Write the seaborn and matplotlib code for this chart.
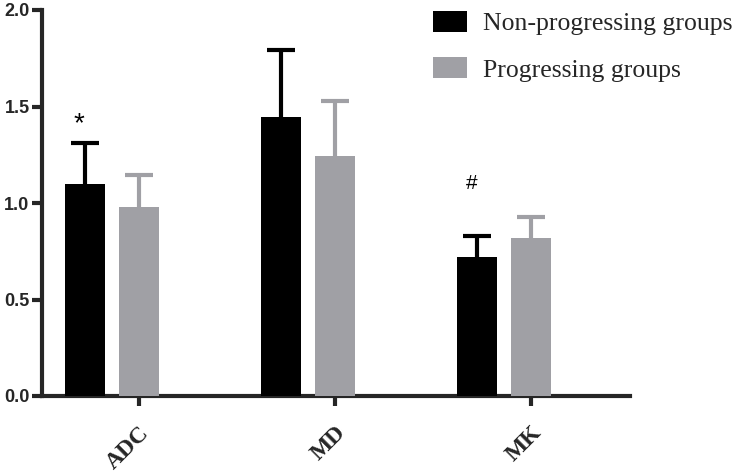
import matplotlib
matplotlib.use("Agg")
import matplotlib.pyplot as plt
import pandas as pd
import seaborn as sns

# --- data ---
CATEGORIES = ["ADC", "MD", "MK"]
GROUPS = ["Non-progressing groups", "Progressing groups"]
NON_PROG_MEAN = [1.096, 1.448, 0.718]
NON_PROG_SD = [0.216, 0.346, 0.113]
PROG_MEAN = [0.978, 1.245, 0.819]
PROG_SD = [0.166, 0.281, 0.107]
MARKS = ["*", "", "#"]          # significance marks over the non-progressing bars
MARK_Y = [1.41, None, 1.10]
MARK_SIZE = [20, 0, 15]

COLORS = ["#000000", "#A0A0A5"]

df = pd.DataFrame({
    "category": CATEGORIES * 2,
    "group": [GROUPS[0]] * 3 + [GROUPS[1]] * 3,
    "mean": NON_PROG_MEAN + PROG_MEAN,
    "sd": NON_PROG_SD + PROG_SD,
})

sns.set_style("ticks")
plt.rcParams["font.family"] = ["Liberation Sans", "DejaVu Sans"]

fig = plt.figure(figsize=(7.38, 4.74), dpi=100)
ax = fig.add_axes([42 / 738, 1 - 396 / 474, (630 - 42) / 738, (396 - 10) / 474])

sns.barplot(data=df, x="category", y="mean", hue="group", palette=COLORS,
            width=0.546, gap=0.25, errorbar=None, saturation=1, linewidth=0,
            ax=ax, zorder=3)

# upper-only error bars, placed on the bars seaborn drew
bars = [p for p in ax.patches if p.get_height() > 0][:6]
for bar, (_, row), col in zip(bars, df.iterrows(), [COLORS[0]] * 3 + [COLORS[1]] * 3):
    cx = bar.get_x() + bar.get_width() / 2
    _, caps, _ = ax.errorbar(cx, row["mean"], yerr=[[0], [row["sd"]]], fmt="none",
                             ecolor=col, elinewidth=3, capsize=10, capthick=3, zorder=2)
    caps[0].set_visible(False)  # no lower cap

for i, (mark, my) in enumerate(zip(MARKS, MARK_Y)):
    if mark:
        b = bars[i]
        ax.text(b.get_x() + b.get_width() / 2 - 6 / 196, my, mark, ha="center", va="center",
                fontsize=MARK_SIZE[i], color="black")

ax.set_ylim(0, 2.0)
ax.set_yticks([0.0, 0.5, 1.0, 1.5, 2.0])
ax.set_yticklabels(["0.0", "0.5", "1.0", "1.5", "2.0"], fontweight="bold", fontsize=13)
ax.set_xlim(-0.357, 2.643)

# ticks sit under the grey bars, as in the original
ax.set_xticks([b.get_x() + b.get_width() / 2 for b in bars[3:6]])
ax.set_xticklabels(CATEGORIES, rotation=45, ha="right", rotation_mode="anchor",
                   fontsize=17, fontweight="bold", family=["Liberation Serif"])
ax.set_xlabel("")
ax.set_ylabel("")

sns.despine(ax=ax)
for side in ["left", "bottom"]:
    ax.spines[side].set_linewidth(3)
ax.tick_params(axis="y", width=3, length=7, pad=2)
ax.tick_params(axis="x", width=3, length=7, pad=12)

leg = ax.legend(loc="upper left", bbox_to_anchor=(410 / 738, 1.025),
                bbox_transform=fig.transFigure, frameon=False,
                prop={"family": "Liberation Serif", "size": 18.5},
                handlelength=1.32, handleheight=0.86, handletextpad=0.62, labelspacing=0.85)

fig.savefig("out.png", dpi=100)
